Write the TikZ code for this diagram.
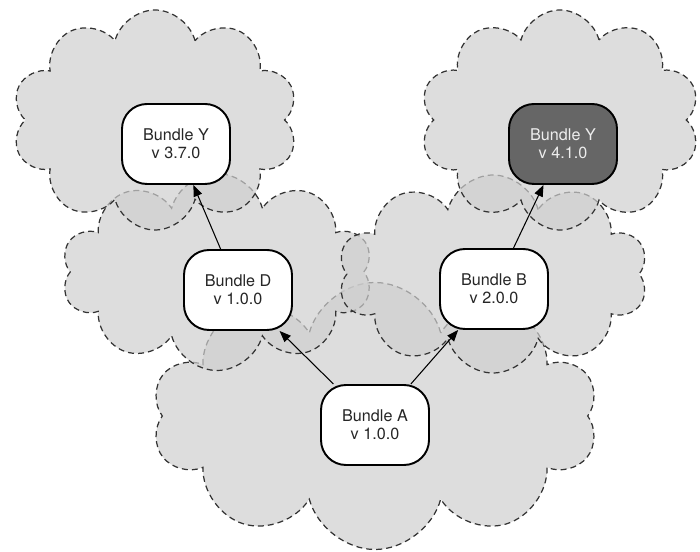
\documentclass[tikz,border=0pt]{standalone}
\usepackage{fontspec}
\setmainfont{TeX Gyre Heros}
\usetikzlibrary{shapes.symbols, arrows.meta}

\begin{document}
\begin{tikzpicture}[x=1cm, y=-1cm,
  region/.style={cloud, cloud puffs=10, cloud ignores aspect, draw=black!80,
    dash pattern=on 3.4pt off 2.3pt, line width=0.7pt,
    fill=black!19, fill opacity=0.7, inner sep=0pt},
  bundle/.style={rectangle, rounded corners=0.5cm, draw, line width=1.1pt,
    fill=white, minimum width=2.16cm, minimum height=1.6cm,
    align=center, text=black!85, font=\fontsize{9.2}{10.4}\selectfont},
  dep/.style={-{Triangle[length=6.5pt, width=5pt]}, line width=0.6pt}]
\useasboundingbox (0,0) rectangle (14,11.04);

% Clouds
\node[region, minimum width=8.92cm, minimum height=5.34cm] (cloudA) at (7.5,8.32) {};
\node[region, minimum width=6.22cm, minimum height=3.94cm] (cloudD) at (4.34,5.44) {};
\node[region, minimum width=6.2cm, minimum height=3.96cm] (cloudB) at (9.86,5.48) {};
\node[region, minimum width=5.72cm, minimum height=4.4cm] (cloudYl) at (3.1,2.4) {};
\node[region, minimum width=5.6cm, minimum height=4.4cm] (cloudYr) at (11.2,2.4) {};

% Bundles
\node[bundle] (bundleA) at (7.5,8.5) {Bundle A\\v 1.0.0};
\node[bundle] (bundleD) at (4.76,5.8) {Bundle D\\v 1.0.0};
\node[bundle] (bundleB) at (9.88,5.78) {Bundle B\\v 2.0.0};
\node[bundle] (bundleY) at (3.52,2.88) {Bundle Y\\v 3.7.0};
\node[bundle, fill=black!60, text=black!7] (bundleYnew) at (11.26,2.88) {Bundle Y\\v 4.1.0};

% Dependencies
\draw[dep] (bundleA) -- (bundleD);
\draw[dep] (bundleA) -- (bundleB);
\draw[dep] (bundleD) -- (bundleY);
\draw[dep] (bundleB) -- (bundleYnew);
\end{tikzpicture}
\end{document}
